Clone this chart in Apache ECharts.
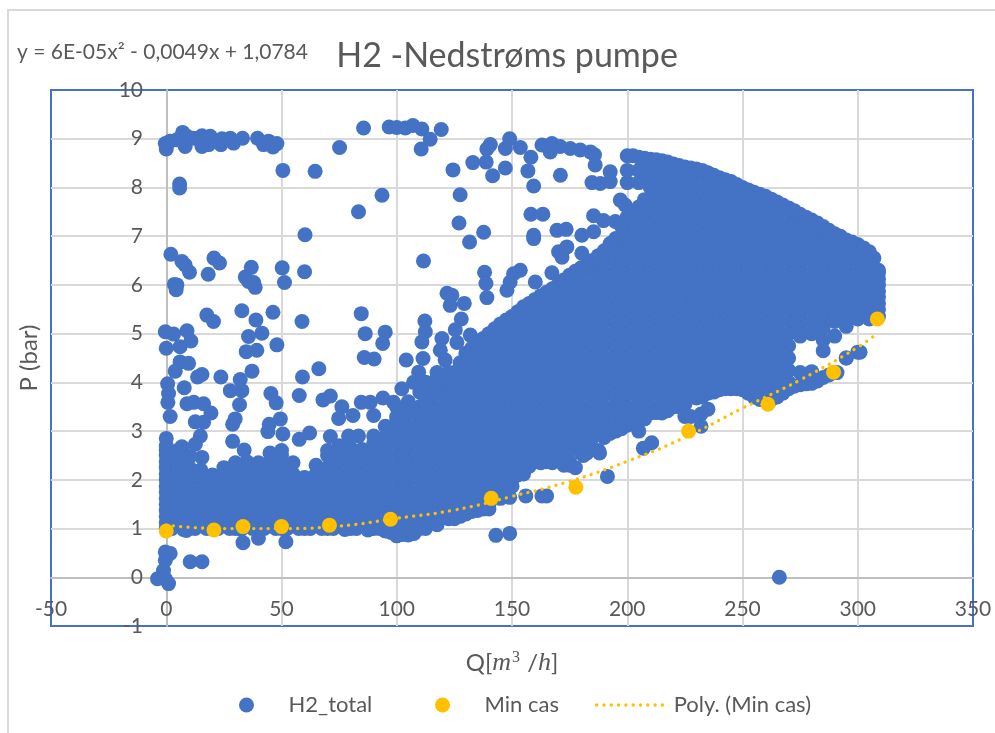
<!DOCTYPE html>
<html><head><meta charset="utf-8">
<style>html,body{margin:0;padding:0;background:#fff}#c{width:995px;height:733px}</style>
<script src="https://cdn.jsdelivr.net/npm/echarts@6/dist/echarts.min.js"></script>
</head><body><div id="c"></div>
<script>
const titleText = 'H2 -Nedstrøms pumpe';
const equationText = 'y = 6E-05x² - 0,0049x + 1,0784';
const seriesNames = ['H2_total', 'Min cas', 'Poly. (Min cas)'];

const minCasQ = [0, 20.7, 33.3, 50, 70.8, 97.3, 141, 177.7, 226.6, 261, 289.5, 308.5];
const minCasP = [0.95, 0.97, 1.04, 1.04, 1.07, 1.19, 1.62, 1.85, 3.0, 3.55, 4.21, 5.3];

const trendQ = [0, 25, 50, 75, 100, 125, 150, 175, 200, 225, 250, 275, 300, 308];
const trendP = [1.07, 1.0, 1.0, 1.05, 1.21, 1.38, 1.66, 1.97, 2.38, 2.87, 3.47, 4.05, 4.72, 4.99];

const cloudQ = [0,5,10,15,20,25,30,35,40,45,50,55,60,65,70,75,80,85,90,95,100,105,110,115,120,125,130,135,140,145,150,155,160,165,170,175,180,185,190,195,200,205,210,215,220,225,230,235,240,245,250,255,260,265,270,275,280,285,290,295,300,305,309];
const cloudP = [
[1,1.12,1.25,1.37,1.5,1.62,1.75,1.87,2,2.12,2.25,2.37,2.5,2.6,2.7,2.85],
[1.12,1.37,1.62,1.87,2.12,2.37,2.6],
[1,1.25,1.5,1.75,2,2.25],
[1.12,1.37,1.62,1.87,2.12,2.2],
[1,1.25,1.5,1.75,2,2.1],
[1.12,1.37,1.62,1.87,2.12,2.25],
[1,1.25,1.5,1.75,2,2.25,2.35],
[1.12,1.37,1.62,1.87,2.12,2.37],
[1,1.25,1.5,1.75,2,2.25,2.35],
[1.12,1.37,1.62,1.87,2.12,2.37,2.55],
[1,1.25,1.5,1.75,2,2.25,2.5,2.6],
[1.12,1.37,1.62,1.87,2.12,2.35],
[1,1.25,1.5,1.75,2,2.05],
[1.12,1.37,1.62,1.87,2.12,2.3],
[1,1.25,1.5,1.75,2,2.25,2.5,2.6],
[1.12,1.37,1.62,1.87,2.12,2.37,2.62,2.7],
[1,1.25,1.5,1.75,2,2.25,2.5,2.65],
[1.12,1.37,1.62,1.87,2.12,2.37,2.62],
[1,1.25,1.5,1.75,2,2.25,2.5,2.75,2.9],
[0.95,1.12,1.37,1.62,1.87,2.12,2.37,2.62,2.87,3.1],
[0.85,1,1.25,1.5,1.75,2,2.25,2.5,2.75,3,3.25,3.3],
[0.87,1.12,1.37,1.62,1.87,2.12,2.37,2.62,2.87,3.12,3.37],
[1,1.25,1.5,1.75,2,2.25,2.5,2.75,3,3.25,3.5],
[1.12,1.37,1.62,1.87,2.12,2.37,2.62,2.87,3.12,3.37,3.62,3.7],
[1.25,1.5,1.75,2,2.25,2.5,2.75,3,3.25,3.5,3.75,3.9],
[1.2,1.37,1.62,1.87,2.12,2.37,2.62,2.87,3.12,3.37,3.62,3.87,4.12,4.2],
[1.3,1.5,1.75,2,2.25,2.5,2.75,3,3.25,3.5,3.75,4,4.25,4.5,4.6],
[1.37,1.62,1.87,2.12,2.37,2.62,2.87,3.12,3.37,3.62,3.87,4.12,4.37,4.62,4.8],
[1.4,1.5,1.75,2,2.25,2.5,2.75,3,3.25,3.5,3.75,4,4.25,4.5,4.75,5],
[1.62,1.87,2.12,2.37,2.62,2.87,3.12,3.37,3.62,3.87,4.12,4.37,4.62,4.87,5.12,5.2],
[1.87,2,2.25,2.5,2.75,3,3.25,3.5,3.75,4,4.25,4.5,4.75,5,5.25,5.35],
[2.12,2.37,2.62,2.87,3.12,3.37,3.62,3.87,4.12,4.37,4.62,4.87,5.12,5.37,5.55],
[2.37,2.5,2.75,3,3.25,3.5,3.75,4,4.25,4.5,4.75,5,5.25,5.5,5.7],
[2.37,2.62,2.87,3.12,3.37,3.62,3.87,4.12,4.37,4.62,4.87,5.12,5.37,5.62,5.85],
[2.4,2.5,2.75,3,3.25,3.5,3.75,4,4.25,4.5,4.75,5,5.25,5.5,5.75,6],
[2.3,2.37,2.62,2.87,3.12,3.37,3.62,3.87,4.12,4.37,4.62,4.87,5.12,5.37,5.62,5.87,6.12,6.2],
[2.55,2.75,3,3.25,3.5,3.75,4,4.25,4.5,4.75,5,5.25,5.5,5.75,6,6.25,6.35],
[2.62,2.87,3.12,3.37,3.62,3.87,4.12,4.37,4.62,4.87,5.12,5.37,5.62,5.87,6.12,6.37,6.5],
[2.87,3,3.25,3.5,3.75,4,4.25,4.5,4.75,5,5.25,5.5,5.75,6,6.25,6.5,6.7],
[3,3.12,3.37,3.62,3.87,4.12,4.37,4.62,4.87,5.12,5.37,5.62,5.87,6.12,6.37,6.62,6.87,6.95],
[3.12,3.25,3.5,3.75,4,4.25,4.5,4.75,5,5.25,5.5,5.75,6,6.25,6.5,6.75,7,7.25,7.4,8.1,8.35,8.65],
[3.25,3.37,3.62,3.87,4.12,4.37,4.62,4.87,5.12,5.37,5.62,5.87,6.12,6.37,6.62,6.87,7.12,7.37,7.6,8.1,8.35,8.62],
[3.37,3.5,3.75,4,4.25,4.5,4.75,5,5.25,5.5,5.75,6,6.25,6.5,6.75,7,7.25,7.5,7.75,8,8.25,8.5,8.58],
[3.37,3.62,3.87,4.12,4.37,4.62,4.87,5.12,5.37,5.62,5.87,6.12,6.37,6.62,6.87,7.12,7.37,7.62,7.87,8.12,8.37,8.55],
[3.5,3.75,4,4.25,4.5,4.75,5,5.25,5.5,5.75,6,6.25,6.5,6.75,7,7.25,7.5,7.75,8,8.25,8.48],
[3.55,3.62,3.87,4.12,4.37,4.62,4.87,5.12,5.37,5.62,5.87,6.12,6.37,6.62,6.87,7.12,7.37,7.62,7.87,8.12,8.37,8.42],
[3.68,3.75,4,4.25,4.5,4.75,5,5.25,5.5,5.75,6,6.25,6.5,6.75,7,7.25,7.5,7.75,8,8.25,8.38],
[3.78,3.87,4.12,4.37,4.62,4.87,5.12,5.37,5.62,5.87,6.12,6.37,6.62,6.87,7.12,7.37,7.62,7.87,8.12,8.3],
[3.85,4,4.25,4.5,4.75,5,5.25,5.5,5.75,6,6.25,6.5,6.75,7,7.25,7.5,7.75,8,8.2],
[3.87,4.12,4.37,4.62,4.87,5.12,5.37,5.62,5.87,6.12,6.37,6.62,6.87,7.12,7.37,7.62,7.87,8.12],
[3.85,4,4.25,4.5,4.75,5,5.25,5.5,5.75,6,6.25,6.5,6.75,7,7.25,7.5,7.75,8],
[3.7,3.87,4.12,4.37,4.62,4.87,5.12,5.37,5.62,5.87,6.12,6.37,6.62,6.87,7.12,7.37,7.62,7.87,7.9],
[3.62,3.75,4,4.25,4.5,4.75,5,5.25,5.5,5.75,6,6.25,6.5,6.75,7,7.25,7.5,7.75,7.82],
[3.7,3.87,4.12,4.37,4.62,4.87,5.12,5.37,5.62,5.87,6.12,6.37,6.62,6.87,7.12,7.37,7.62,7.7],
[3.87,4,4.25,4.5,4.75,5,5.25,5.5,5.75,6,6.25,6.5,6.75,7,7.25,7.5,7.58],
[3.95,4.2,4.95,5.12,5.37,5.62,5.87,6.12,6.37,6.62,6.87,7.12,7.37,7.45],
[3.98,4.22,5,5.25,5.5,5.75,6,6.25,6.5,6.75,7,7.25,7.33],
[4.1,4.65,4.87,5.12,5.37,5.62,5.87,6.12,6.37,6.62,6.87,7.12,7.2],
[4.2,4.95,5.25,5.5,5.75,6,6.25,6.5,6.75,7,7.05],
[4.5,5.15,5.37,5.62,5.87,6.12,6.37,6.62,6.87,6.92],
[4.62,5.3,5.5,5.75,6,6.25,6.5,6.75,6.83],
[5.3,5.37,5.62,5.87,6.12,6.37,6.62,6.68],
[5.35,5.5,5.62,5.75,5.87,6,6.12,6.25,6.3]
];

const edgeQ = [202.5,207.5,212.5,217.5,222.5,227.5,232.5,237.5,242.5,247.5,252.5,257.5,262.5,267.5,272.5,277.5,282.5,287.5,292.5,297.5,302.5,307,147.5,152.5,157.5,162.5,167.5,172.5,177.5,182.5,187.5,192.5,197.5,202.5,207.5,142.5,137.5,132.5,127.5,122.5,117.5,112.5,107.5,102.5,2.5,7.5,12.5,17.5,22.5,27.5,32.5,37.5,42.5,47.5,52.5,57.5,62.5,67.5,72.5,77.5,82.5,87.5,92.5,97.5,102.5,107.5,112.5,117.5,122.5,127.5,132.5,137.5,147.5,152.5,157.5,162.5,167.5,172.5,177.5,182.5,187.5,192.5,197.5,202.5,207.5,212.5,217.5,222.5,232.5,237.5,242.5,247.5,252.5,257.5,262.5,267.5,272.5,277.5,282.5,287.5,225,232,235,207,210.6,191.4,205,181,105,110,115,120,112.5,117.5,122.5,100];
const edgeP = [8.65,8.6,8.57,8.52,8.45,8.4,8.35,8.25,8.16,8.06,7.95,7.86,7.76,7.64,7.52,7.39,7.27,7.12,7,6.88,6.76,6.55,5.28,5.45,5.62,5.78,5.92,6.1,6.28,6.42,6.6,6.82,7.2,7.5,7.75,5.1,4.9,4.7,4.4,4.05,3.8,3.6,3.4,3.3,1,0.98,1,1,1,1,0.98,1,1,1,1,1,1,1,1,0.98,1,0.97,1,0.92,0.88,0.9,1,1.08,1.2,1.25,1.35,1.4,1.95,2.1,2.28,2.35,2.35,2.3,2.25,2.55,2.6,2.95,3.05,3.15,3.25,3.38,3.42,3.5,3.7,3.8,3.87,3.87,3.78,3.65,3.65,3.78,3.92,3.97,4.03,4.15,3.3,3.35,3.45,2.65,2.76,2.07,3,2.5,3.6,3.8,3.9,4.1,4,4.2,4.2,3.5];

const strayQ = [-0.4,0,1.7,4.6,7.1,8.2,9,11.9,15.5,15.5,19.1,18.4,21.3,24.2,23.7,27.8,29.2,33.1,39.6,42.2,44.4,46.3,48,50.6,64.6,75.2,85.6,83.4,93.6,96.7,100,103.7,107,110.9,114.5,110.6,119.3,133,138.8,140.6,139.1,124.4,141.6,127.5,127,131.6,137.7,111.6,138.1,138.7,121.8,123.9,123.2,129.3,139.1,112.2,128,125.4,131.9,112.4,119.6,5.8,5.8,2,6.8,8.2,10.1,20.7,23.1,18.2,3.5,4.6,4.3,34.3,36.9,35.7,37.9,38.6,50.3,51.3,60,60.2,17.6,20.5,32.8,38.9,46.3,58.9,84.6,86.3,95,-0.4,3.2,9,35.7,41.5,0,6,10.7,34.7,39.3,48,93.9,85.9,90.2,6,9.7,3.9,13.6,15.5,23.7,37.2,32.1,0.6,7.8,27.8,32.8,1,0.7,9,11.9,16.2,31.8,19.4,1.7,29.9,28.8,12.6,16.2,49.5,44.7,44.1,50.6,45.4,47.7,57.7,59.1,66.2,68,71.2,14.8,12.6,28.8,33.8,57.7,62.2,6.8,15.5,10.4,76.2,84.6,88.5,94,74.8,81,71.2,79.1,83.4,90,98.6,102.2,107.3,109.5,104.1,111.4,117.4,121,118.9,126.1,110.9,-0.4,1.7,-0.4,-1.2,-3.8,-0.4,1,10.4,15.5,33.3,40,51.9,8.7,266,149,147.1,153.6,158.2,147.1,156.9,159.4,163,167.3,166.6,170.9,175.3,179.6,184,185.8,186.1,171,184.7,188.3,192.6,192.6,197,199.1,158.2,163.4,159.4,159.4,169.5,173.5,180.3,185.4,185.4,189.7,194.8,173.8,170.2,171.7,180.3,192.6,153.6,150.7,160.1,167.3,147.8,149.2,149,156,163,165,143,149,232,227.5,188,301,295,291];
const strayP = [8.9,8.79,8.95,8.98,9.13,8.84,9.05,9.01,9.06,8.84,9.05,8.88,8.95,9,8.88,9.01,8.91,9.01,9.01,8.88,8.95,8.83,8.9,8.35,8.33,8.82,9.22,7.5,7.84,9.24,9.23,9.22,9.27,9.2,8.99,8.79,9.19,8.51,8.52,8.88,8.79,8.36,8.24,7.85,7.27,6.88,7.08,6.49,6.26,6.03,5.83,5.79,5.58,5.62,5.74,5.26,5.3,5.08,4.97,5.04,4.9,8.07,7.99,6.63,6.48,6.41,6.26,6.55,6.45,6.22,6.01,6,5.9,6.16,6.36,6.07,6.05,5.95,6.35,6.05,6.27,7.03,5.38,5.25,5.47,5.28,5.44,5.25,5.41,5,5.03,5.04,4.99,5.06,4.94,5.01,4.7,4.73,4.85,4.63,4.66,4.77,4.8,4.51,4.48,4.42,4.39,4.23,4.11,4.16,4.11,4.23,4.06,3.97,3.89,3.83,3.83,3.77,3.59,3.56,3.59,3.56,3.54,3.37,3.3,3.25,3.14,3.19,3.18,3.25,3.14,2.99,2.94,3.77,3.58,3.73,4.11,4.28,3.64,3.72,2.9,2.73,2.79,2.61,2.83,2.96,2.68,2.46,2.49,3.5,3.59,3.59,3.68,3.26,3.32,2.89,2.9,2.9,3.32,3.59,3.87,4,4.21,4.46,4.49,4.08,4.46,4.66,4.82,4.83,0.52,0.49,0.35,0.14,-0.03,-0.03,-0.13,0.32,0.32,0.71,0.8,0.73,0.96,0,9,8.8,8.82,8.62,8.4,8.34,8.03,8.87,8.9,8.73,8.84,8.8,8.77,8.73,8.67,8.46,8.25,8.1,8.08,8.12,8.32,7.74,7.64,7.45,7.45,6.95,7.02,7.12,7.14,7.02,7.09,7.42,7.32,7.3,6.78,6.68,6.57,6.65,6.85,6.3,6.23,6.06,6.25,5.89,6.06,1.64,1.67,1.67,1.67,0.86,0.9,3.1,3.3,2.55,4.62,4.5,4.2];

const blue = '#4472C4', gold = '#FFC000', ink = '#595959';
const fontFamily = 'Lato, Carlito, sans-serif';
const dotted = {color: gold, width: 3.3, type: [0.1, 7.2], cap: 'round'};

const cloud = [];
cloudQ.forEach((q, i) => cloudP[i].forEach(p => cloud.push([q, p])));
edgeQ.forEach((q, i) => cloud.push([q, edgeP[i]]));
strayQ.forEach((q, i) => cloud.push([q, strayP[i]]));

const legendBase = {itemWidth: 70, itemHeight: 15, orient: 'horizontal', top: 689,
  textStyle: {fontFamily, fontSize: 22, color: ink, padding: [0, 0, 0, 2]}};

const chart = echarts.init(document.getElementById('c'), null, {renderer: 'canvas'});
chart.setOption({
  animation: false,
  backgroundColor: '#fff',
  textStyle: {fontFamily},
  title: {text: titleText, left: 502, top: 34, textAlign: 'center',
    textStyle: {fontFamily, fontSize: 34, fontWeight: 'normal', color: ink}},
  graphic: [
    {type: 'polyline', silent: true, z: 0, shape: {points: [[8, 733], [8, 10], [995, 10]]},
      style: {stroke: '#d9d9d9', lineWidth: 2, fill: null}},
    {type: 'rect', silent: true, z: 0, shape: {x: 51, y: 90, width: 922, height: 536},
      style: {stroke: blue, lineWidth: 2, fill: null}},
    {type: 'text', silent: true, left: 17, top: 42,
      style: {text: equationText, font: '21px ' + fontFamily, fill: ink}}
  ],
  legend: [
    Object.assign({}, legendBase, {left: 234, data: [{name: seriesNames[0]}]}),
    Object.assign({}, legendBase, {left: 430, data: [{name: seriesNames[1]}]}),
    Object.assign({}, legendBase, {left: 590, data: [{name: seriesNames[2], icon: 'inherit', itemStyle: {opacity: 0}, lineStyle: dotted}]})
  ],
  grid: {left: 51, top: 90, width: 922, height: 536, show: false, outerBoundsMode: 'none', containLabel: false},
  xAxis: {type: 'value', min: -50, max: 350, interval: 50, z: 1,
    axisLine: {onZero: true, lineStyle: {color: '#bfbfbf', width: 2}},
    axisTick: {show: false},
    splitLine: {showMinLine: false, showMaxLine: false, lineStyle: {color: '#d9d9d9', width: 2}},
    axisLabel: {margin: -27, color: ink, fontSize: 21, fontFamily, showMinLabel: true, showMaxLabel: true, hideOverlap: false},
    name: '{a|Q[}{i|m}{s|3}{a| /}{i|h}{a|]}', nameLocation: 'middle', nameGap: 24,
    nameTextStyle: {rich: {
      a: {fontFamily, fontSize: 24, color: ink},
      i: {fontFamily: '"Liberation Serif", serif', fontStyle: 'italic', fontSize: 26, color: ink},
      s: {fontFamily: '"Liberation Serif", serif', fontSize: 16, color: ink, verticalAlign: 'top', padding: [0, 1, 6, 1]}
    }}},
  yAxis: {type: 'value', min: -1, max: 10, interval: 1, z: 1,
    axisLine: {onZero: true, lineStyle: {color: '#bfbfbf', width: 2}},
    axisTick: {show: false},
    splitLine: {showMinLine: false, showMaxLine: false, lineStyle: {color: '#d9d9d9', width: 2}},
    axisLabel: {margin: -92, color: ink, fontSize: 21, fontFamily, showMinLabel: true, showMaxLabel: true, hideOverlap: false},
    name: 'P (bar)', nameLocation: 'middle', nameGap: 10, nameRotate: 90,
    nameTextStyle: {fontFamily, fontSize: 24, color: ink}},
  series: [
    {name: seriesNames[0], type: 'scatter', symbol: 'circle', symbolSize: 15, large: false, z: 2,
      itemStyle: {color: blue, opacity: 1}, data: cloud},
    {name: seriesNames[1], type: 'scatter', symbol: 'circle', symbolSize: 15, z: 3,
      itemStyle: {color: gold, opacity: 1}, data: minCasQ.map((q, i) => [q, minCasP[i]])},
    {name: seriesNames[2], type: 'line', smooth: true, symbol: 'none', z: 4,
      itemStyle: {color: gold},
      lineStyle: dotted,
      data: trendQ.map((q, i) => [q, trendP[i]])}
  ]
});
</script></body></html>
